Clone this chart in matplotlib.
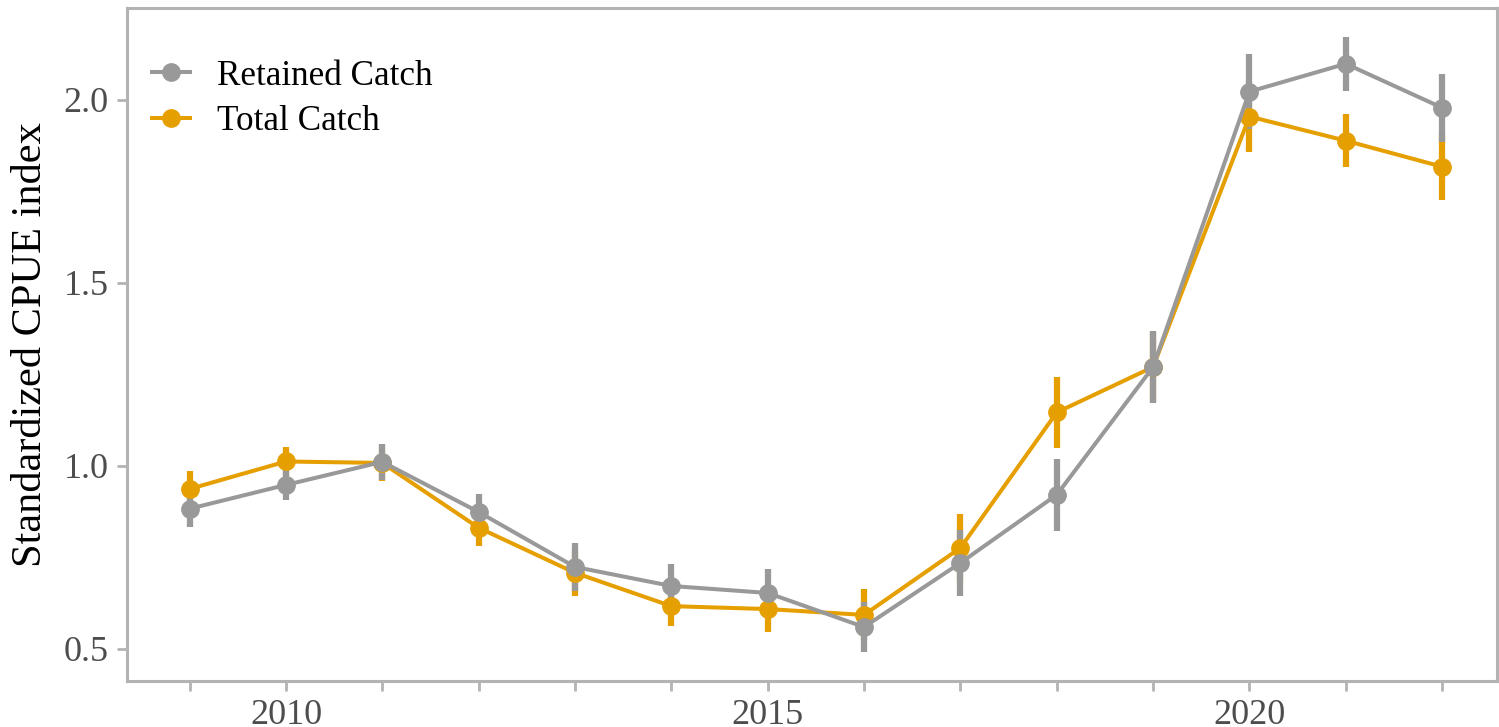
import matplotlib
matplotlib.use('Agg')
import matplotlib.pyplot as plt
from matplotlib.lines import Line2D

years = [2009, 2010, 2011, 2012, 2013, 2014, 2015, 2016, 2017, 2018, 2019, 2020, 2021, 2022]

retained = [0.883, 0.948, 1.011, 0.874, 0.724, 0.672, 0.653, 0.560, 0.735, 0.921, 1.270, 2.022, 2.098, 1.978]
retained_err = [0.049, 0.041, 0.050, 0.049, 0.065, 0.060, 0.065, 0.068, 0.090, 0.098, 0.098, 0.103, 0.074, 0.093]

total = [0.937, 1.012, 1.008, 0.831, 0.708, 0.617, 0.609, 0.593, 0.776, 1.146, 1.270, 1.954, 1.888, 1.817]
total_err = [0.049, 0.040, 0.048, 0.049, 0.062, 0.055, 0.063, 0.071, 0.093, 0.098, 0.095, 0.098, 0.072, 0.090]

x_labels = ['', '2010', '', '', '', '', '2015', '', '', '', '', '2020', '', '']
y_ticks = [0.5, 1.0, 1.5, 2.0]

grey = '#999999'
orange = '#E69F00'

plt.rcParams['font.family'] = ['Liberation Serif', 'DejaVu Serif']

fig = plt.figure(figsize=(14.99, 7.27), dpi=100)
ax = fig.add_axes([0.0847, 0.0633, 0.914, 0.926])

# orange underneath, grey on top
for vals, errs, col in [(total, total_err, orange), (retained, retained_err, grey)]:
    ax.vlines(years, [v - e for v, e in zip(vals, errs)], [v + e for v, e in zip(vals, errs)],
              color=col, lw=4.5, zorder=2)
    ax.plot(years, vals, '-o', color=col, lw=2.9, ms=12.5, zorder=3)

ax.set_xlim(2008.35, 2022.57)
ax.set_ylim(0.4126, 2.251)
ax.set_xticks(years)
ax.set_xticklabels(x_labels)
ax.set_yticks(y_ticks)
ax.set_yticklabels(['%.1f' % t for t in y_ticks])

ax.tick_params(axis='both', colors='#B3B3B3', width=2, length=7, labelsize=26,
               labelcolor='#4D4D4D', pad=6)
for s in ax.spines.values():
    s.set_color('#B3B3B3')
    s.set_linewidth(2.2)

ax.set_ylabel('Standardized CPUE index', fontsize=30.5, color='black', labelpad=10)

handles = [Line2D([], [], color=grey, marker='o', lw=2.9, ms=12.5),
           Line2D([], [], color=orange, marker='o', lw=2.9, ms=12.5)]
ax.legend(handles, ['Retained Catch', 'Total Catch'], loc='upper left', frameon=False,
          fontsize=25.3, handlelength=1.08, handletextpad=0.77, labelspacing=0.36,
          borderaxespad=0, borderpad=0, bbox_to_anchor=(0.0182, 0.923))

fig.savefig('out.png', dpi=100)
